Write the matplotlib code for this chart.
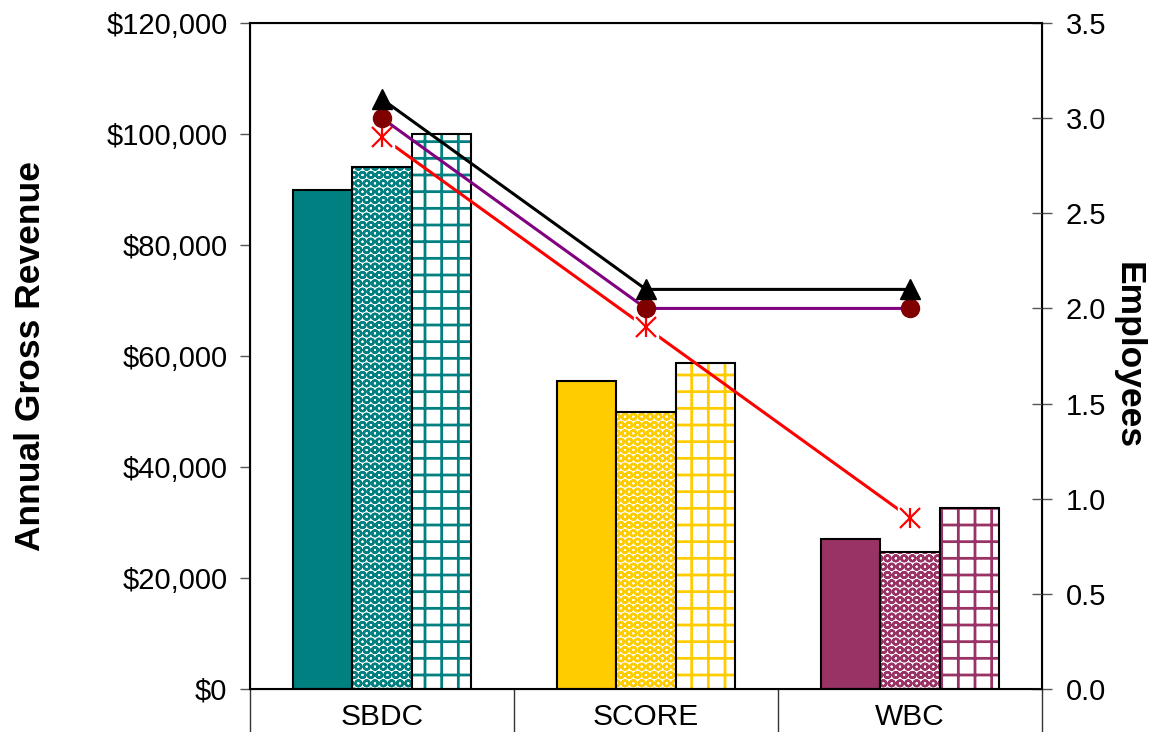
import numpy as np
import matplotlib
matplotlib.use("Agg")
import matplotlib.pyplot as plt
from matplotlib.ticker import FuncFormatter, FixedLocator

plt.rcParams["font.family"] = ["Liberation Sans", "DejaVu Sans"]

categories = ["SBDC", "SCORE", "WBC"]
bar_colors = ["#008080", "#FFCC00", "#993366"]

revenue_1 = [90000, 55500, 27000]
revenue_2 = [94000, 50000, 24700]
revenue_3 = [100000, 58700, 32600]

employees_tri = [3.1, 2.1, 2.1]
employees_circ = [3.0, 2.0, 2.0]
employees_star = [2.9, 1.9, 0.9]

left_ticks = [0, 20000, 40000, 60000, 80000, 100000, 120000]
right_ticks = [0.0, 0.5, 1.0, 1.5, 2.0, 2.5, 3.0, 3.5]

fig = plt.figure(figsize=(11.61, 7.32), dpi=100)
ax = fig.add_axes([250 / 1161, 1 - 689 / 732, (1042 - 250) / 1161, (689 - 23) / 732])

x = np.arange(len(categories))
w = 0.2235

# solid bars
ax.bar(x - w, revenue_1, w, color=bar_colors, edgecolor="black", linewidth=1.5, zorder=2)
# sphere-ish pattern
with plt.rc_context({"hatch.linewidth": 1.7}):
    ax.bar(x, revenue_2, w, color="white", edgecolor=bar_colors, linewidth=0, hatch="OO", zorder=2)
ax.bar(x, revenue_2, w, fill=False, edgecolor="black", linewidth=1.5, zorder=2)
# grid pattern
with plt.rc_context({"hatch.linewidth": 2.0}):
    ax.bar(x + w, revenue_3, w, color="white", edgecolor=bar_colors, linewidth=0, hatch="+", zorder=2)
ax.bar(x + w, revenue_3, w, fill=False, edgecolor="black", linewidth=1.5, zorder=2)

ax.set_xlim(-0.5, 2.5)
ax.set_ylim(0, 120000)
ax.set_yticks(left_ticks)
ax.yaxis.set_major_formatter(FuncFormatter(lambda v, p: "${:,.0f}".format(v)))
ax.tick_params(axis="y", direction="out", length=7.2, width=1, pad=9, labelsize=21, color="#555555")

ax.xaxis.set_major_locator(FixedLocator([-0.5, 0.5, 1.5, 2.5]))
ax.xaxis.set_minor_locator(FixedLocator(x))
ax.set_xticklabels([])
ax.set_xticklabels(categories, minor=True)
ax.tick_params(axis="x", which="major", direction="out", length=31, width=1, color="#333333")
ax.tick_params(axis="x", which="minor", length=0, pad=10, labelsize=21.5)

for s in ax.spines.values():
    s.set_linewidth(1.5)

ax.set_ylabel("Annual Gross Revenue", fontsize=25.5, fontweight="bold")
ax.yaxis.set_label_coords(-0.256, 0.5)

ax2 = ax.twinx()
ax2.set_ylim(0, 3.5)
ax2.set_yticks(right_ticks)
ax2.yaxis.set_major_formatter(FuncFormatter(lambda v, p: "{:.1f}".format(v)))
ax2.tick_params(axis="y", direction="inout", length=13.7, width=1, pad=10, labelsize=21, color="#555555")

# employee lines
ax2.plot(x, employees_star, color="red", linewidth=2.2, zorder=3)
ax2.plot(x, employees_star, linestyle="none", marker="s", markersize=17,
         markerfacecolor="white", markeredgecolor="white", zorder=4)
ax2.plot(x, employees_star, linestyle="none", marker="x", markersize=14,
         markeredgecolor="red", markeredgewidth=1.6, zorder=5)
ax2.plot(x, employees_star, linestyle="none", marker="|", markersize=14,
         markeredgecolor="red", markeredgewidth=1.6, zorder=5)
ax2.plot(x, employees_circ, color="#800080", linewidth=2.2, marker="o", markersize=13,
         markerfacecolor="#800000", markeredgecolor="#800000", zorder=6)
ax2.plot(x, employees_tri, color="black", linewidth=2.2, marker="^", markersize=14,
         markerfacecolor="black", markeredgecolor="black", zorder=7)

ax2.set_ylabel("Employees", fontsize=25.5, fontweight="bold", rotation=270)
ax2.yaxis.set_label_coords(1.13, 0.5)

fig.savefig("out.png", dpi=100)
